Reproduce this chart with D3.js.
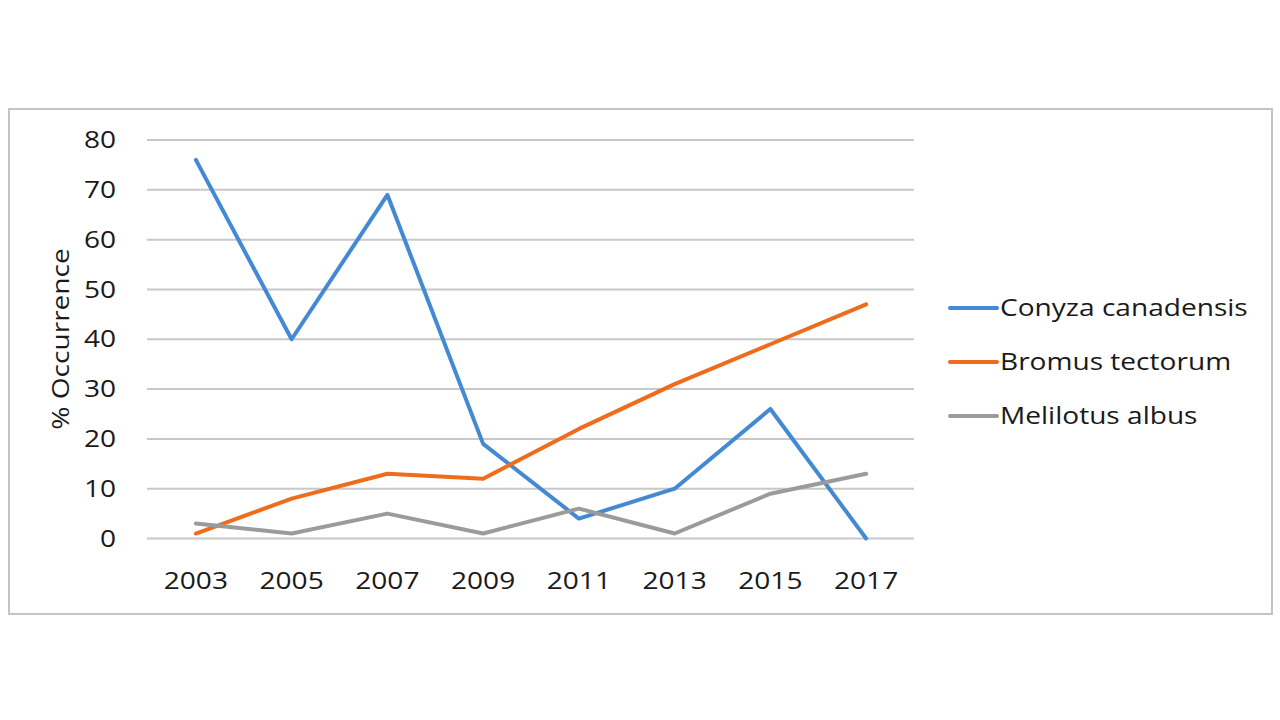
<!DOCTYPE html>
<html><head><meta charset="utf-8">
<script src="https://cdn.jsdelivr.net/npm/d3@7"></script>
<style>body{margin:0;background:#fff;} text{font-family:"Open Sans",sans-serif;fill:#1a1a1a;}</style>
</head><body>
<svg id="c" width="1280" height="720"></svg>
<script>
const years = ["2003","2005","2007","2009","2011","2013","2015","2017"];
const conyza = [76,40,69,19,4,10,26,0];
const bromus = [1,8,13,12,22,31,39,47];
const melilotus = [3,1,5,1,6,1,9,13];
const yTicks = [0,10,20,30,40,50,60,70,80];
const seriesNames = ["Conyza canadensis","Bromus tectorum","Melilotus albus"];
const seriesColors = ["#4389d4","#ee6c1c","#9b9b9b"];
const seriesData = [conyza, bromus, melilotus];
const SX = 1.17;

const svg = d3.select("#c");
svg.append("rect").attr("x",9).attr("y",109).attr("width",1263).attr("height",505)
  .attr("fill","#fff").attr("stroke","#c4c4c4").attr("stroke-width",2);

const x = d3.scaleBand().domain(years).range([148,914]);
const y = d3.scaleLinear().domain([0,80]).range([538.5,140]);

const grid = svg.append("g");
grid.selectAll("line").data(yTicks).join("line")
  .attr("x1",147).attr("x2",914).attr("y1",d=>y(d)).attr("y2",d=>y(d))
  .attr("stroke","#c8c8c8").attr("stroke-width",2);

const yAxis = svg.append("g").attr("transform","translate(147,0)")
  .call(d3.axisLeft(y).tickValues(yTicks).tickSize(0).tickPadding(31));
yAxis.select(".domain").remove();
yAxis.selectAll("text").attr("font-size",24).attr("font-family","Open Sans").attr("fill","#1a1a1a")
  .attr("x",0).attr("transform",`translate(-31,0) scale(${SX},1)`);

const xAxis = svg.append("g").attr("transform","translate(0,572)")
  .call(d3.axisBottom(x).tickSize(0).tickPadding(0));
xAxis.select(".domain").remove();
xAxis.selectAll("text").attr("font-size",24).attr("font-family","Open Sans").attr("fill","#1a1a1a")
  .attr("transform",`scale(${SX},1)`);

svg.append("text").attr("transform",`translate(69,339) rotate(-90) scale(${SX},1)`)
  .attr("text-anchor","middle").attr("font-size",24).text("% Occurrence");

const line = d3.line().x((d,i)=>x(years[i])+x.bandwidth()/2).y(d=>y(d));
seriesData.forEach((s,k)=>{
  svg.append("path").datum(s).attr("d",line).attr("fill","none")
    .attr("stroke",seriesColors[k]).attr("stroke-width",4)
    .attr("stroke-linejoin","round").attr("stroke-linecap","round");
});

const leg = svg.append("g");
seriesNames.forEach((n,k)=>{
  const yy = 308 + k*54;
  leg.append("line").attr("x1",950).attr("x2",997).attr("y1",yy).attr("y2",yy)
    .attr("stroke",seriesColors[k]).attr("stroke-width",4).attr("stroke-linecap","round");
  leg.append("text").attr("transform",`translate(1000,${yy}) scale(${SX},1)`)
    .attr("dy","0.35em").attr("font-size",24).text(n);
});
</script>
</body></html>
